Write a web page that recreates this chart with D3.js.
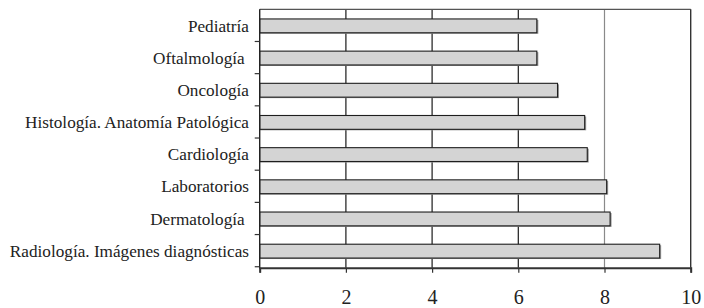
<!DOCTYPE html>
<html>
<head>
<meta charset="utf-8">
<script src="https://cdn.jsdelivr.net/npm/d3@7"></script>
<style>
html,body{margin:0;padding:0;background:#fff;}
svg{display:block;}
text{white-space:pre;}
</style>
</head>
<body>
<svg id="chart" width="704" height="308"></svg>
<script>
const categories = ["Pediatría","Oftalmología ","Oncología","Histología. Anatomía Patológica","Cardiología","Laboratorios","Dermatología ","Radiología. Imágenes diagnósticas"];
const values = [6.43, 6.43, 6.91, 7.54, 7.60, 8.05, 8.13, 9.28];
const xTicks = [0, 2, 4, 6, 8, 10];

const svg = d3.select("#chart");
const pLeft = 259.7, pRight = 690.7, pTop = 9.3, pBottom = 267.7;
const font = "'Liberation Serif', 'Times New Roman', serif";

const x = d3.scaleLinear().domain([0, 10]).range([pLeft, pRight]);
const y = d3.scaleBand().domain(categories).range([pTop, pBottom]).paddingInner(0.57).paddingOuter(0.3);
const step = y.step();

// gridlines
svg.append("g").selectAll("line").data(xTicks.filter(d => d > 0 && d < 10)).join("line")
  .attr("x1", d => x(d)).attr("x2", d => x(d))
  .attr("y1", pTop).attr("y2", pBottom)
  .attr("stroke", d => d === 8 ? "#8a8a8a" : "#1a1a1a").attr("stroke-width", 1.2);

// top and right border
svg.append("line").attr("x1", pLeft).attr("x2", pRight).attr("y1", pTop).attr("y2", pTop)
  .attr("stroke", "#555").attr("stroke-width", 1.2);
svg.append("line").attr("x1", pRight).attr("x2", pRight).attr("y1", pTop).attr("y2", pBottom)
  .attr("stroke", "#333").attr("stroke-width", 1.4);

// bars shadow + bars
svg.append("g").selectAll("rect").data(values).join("rect")
  .attr("x", x(0)).attr("y", (d, i) => y(categories[i]) + 1)
  .attr("width", d => x(d) - x(0) + 1.5).attr("height", y.bandwidth())
  .attr("fill", "#999");
svg.append("g").selectAll("rect").data(values).join("rect")
  .attr("x", x(0)).attr("y", (d, i) => y(categories[i]))
  .attr("width", d => x(d) - x(0)).attr("height", y.bandwidth())
  .attr("fill", "#d4d4d4").attr("stroke", "#1e1e1e").attr("stroke-width", 1.1);

// left axis line and ticks at category boundaries
svg.append("line").attr("x1", pLeft).attr("x2", pLeft).attr("y1", pTop).attr("y2", pBottom + 1)
  .attr("stroke", "#222").attr("stroke-width", 1.4);
const bounds = d3.range(categories.length + 1).map(i => pTop + i * step);
svg.append("g").selectAll("line").data(bounds.slice(1)).join("line")
  .attr("x1", pLeft - 5).attr("x2", pLeft).attr("y1", d => d).attr("y2", d => d)
  .attr("stroke", "#333").attr("stroke-width", 1.2);

// category labels
svg.append("g").selectAll("text").data(categories).join("text")
  .attr("x", 249).attr("y", d => y(d) + y.bandwidth() / 2 + 5.7)
  .attr("text-anchor", "end")
  .attr("font-family", font).attr("font-size", 17.2).attr("fill", "#222")
  .text(d => d);

// bottom axis
const xAxis = d3.axisBottom(x).tickValues(xTicks).tickSize(5).tickFormat(d3.format("d"));
const ga = svg.append("g").attr("transform", `translate(0,${pBottom})`).call(xAxis);
ga.select(".domain").attr("stroke", "#333").attr("stroke-width", 2);
ga.selectAll(".tick line").attr("stroke", "#333").attr("stroke-width", 1.2);
ga.selectAll(".tick text").attr("font-family", font).attr("font-size", 20).attr("fill", "#222")
  .attr("y", 36.3).attr("dy", 0);
</script>
</body>
</html>
